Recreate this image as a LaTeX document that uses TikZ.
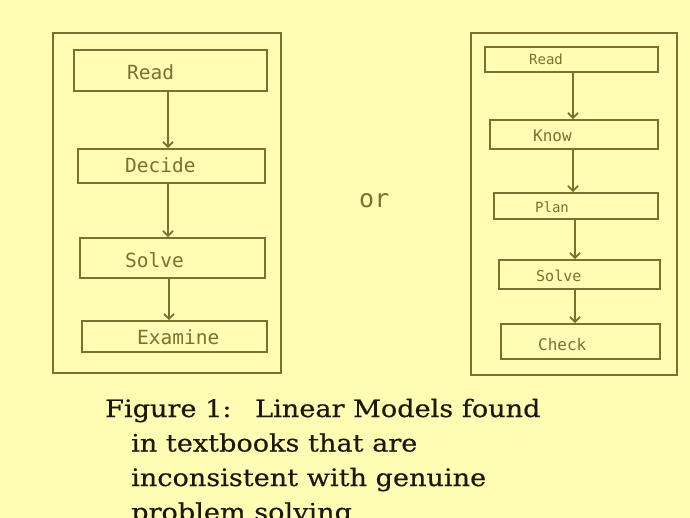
\documentclass[tikz,border=0pt]{standalone}
\usepackage{fontspec}
\setmainfont{DejaVu Serif}
\newfontfamily\boxfont{DejaVu Sans Mono}
\newfontfamily\capfont[FakeStretch=1.13,FakeBold=0.4]{DejaVu Serif}
\usetikzlibrary{arrows.meta}
\definecolor{paper}{RGB}{255,252,180}
\definecolor{modelink}{RGB}{122,113,48}
\definecolor{capink}{RGB}{28,24,12}
\tikzset{
  stepbox/.style={draw=modelink, line width=1.8pt, inner sep=0pt},
  bigtxt/.style={text=modelink, anchor=base west, inner sep=0pt, font=\boxfont\fontsize{19.5}{19.5}\selectfont},
  smalltxt/.style={text=modelink, anchor=base west, inner sep=0pt, font=\boxfont\fontsize{15}{15}\selectfont},
  flow/.style={draw=modelink, line width=1.8pt, -{Straight Barb[length=5pt,width=10pt]}},
  captxt/.style={text=capink, anchor=base west, inner sep=0pt, font=\capfont\fontsize{24}{24}\selectfont}
}
\begin{document}
\begin{tikzpicture}[x=1pt,y=-1pt]
        \fill[paper] (0,0) rectangle (690,518);
        \useasboundingbox (0,0) rectangle (690,518);
        % left model: 4 steps
        \draw[modelink, line width=1.8pt] (53,33) rectangle (281,373);
        \node[stepbox, minimum width=193, minimum height=41] (readA) at (170.5,70.5) {};
        \node[stepbox, minimum width=187, minimum height=34] (decide) at (171.5,166) {};
        \node[stepbox, minimum width=185, minimum height=40] (solveA) at (172.5,258) {};
        \node[stepbox, minimum width=185, minimum height=31] (examine) at (174.5,336.5) {};
        \node[bigtxt] (readAt) at (127,80) {Read};
        \node[bigtxt] (decidet) at (125,173) {Decide};
        \node[bigtxt] (solveAt) at (125,268) {Solve};
        \node[bigtxt] (examinet) at (137,344) {Examine};
        \draw[flow] ([xshift=-2.5]readA.south) -- ([xshift=-2.5]readA.south |- decide.north);
        \draw[flow] ([xshift=-3.5]decide.south) -- ([xshift=-3.5]decide.south |- solveA.north);
        \draw[flow] ([xshift=-3.5]solveA.south) -- ([xshift=-3.5]solveA.south |- examine.north);
        % or
        \node[text=modelink, anchor=base west, inner sep=0pt, font=\boxfont\fontsize{25}{25}\selectfont] (ortxt) at (359,208) {or};
        % right model: 5 steps
        \draw[modelink, line width=1.8pt] (471,33) rectangle (677,375);
        \node[stepbox, minimum width=173, minimum height=25] (readB) at (571.5,59.5) {};
        \node[stepbox, minimum width=168, minimum height=29] (know) at (574,134.5) {};
        \node[stepbox, minimum width=164, minimum height=26] (plan) at (576,206) {};
        \node[stepbox, minimum width=161, minimum height=29] (solveB) at (579.5,274.5) {};
        \node[stepbox, minimum width=159, minimum height=35] (check) at (580.5,341.5) {};
        \node[smalltxt, font=\boxfont\fontsize{14}{14}\selectfont] (readBt) at (529,65) {Read};
        \node[smalltxt, font=\boxfont\fontsize{16}{16}\selectfont] (knowt) at (533,142) {Know};
        \node[smalltxt, font=\boxfont\fontsize{14}{14}\selectfont] (plant) at (535,213) {Plan};
        \node[smalltxt] (solveBt) at (536,282) {Solve};
        \node[smalltxt, font=\boxfont\fontsize{16}{16}\selectfont] (checkt) at (538,350) {Check};
        \draw[flow] ([xshift=1.5]readB.south) -- ([xshift=1.5]readB.south |- know.north);
        \draw[flow] ([xshift=-1]know.south) -- ([xshift=-1]know.south |- plan.north);
        \draw[flow] ([xshift=-1]plan.south) -- ([xshift=-1]plan.south |- solveB.north);
        \draw[flow] ([xshift=-4.5]solveB.south) -- ([xshift=-4.5]solveB.south |- check.north);
        % caption
        \node[captxt] (capA) at (105,417) {\makebox[150pt][l]{Figure 1:}Linear Models found};
        \node[captxt] (capB) at (131,451.5) {in textbooks that are};
        \node[captxt] (capC) at (131,486) {inconsistent with genuine};
        \node[captxt] (capD) at (131,520.5) {problem solving};
    \end{tikzpicture}
\end{document}
